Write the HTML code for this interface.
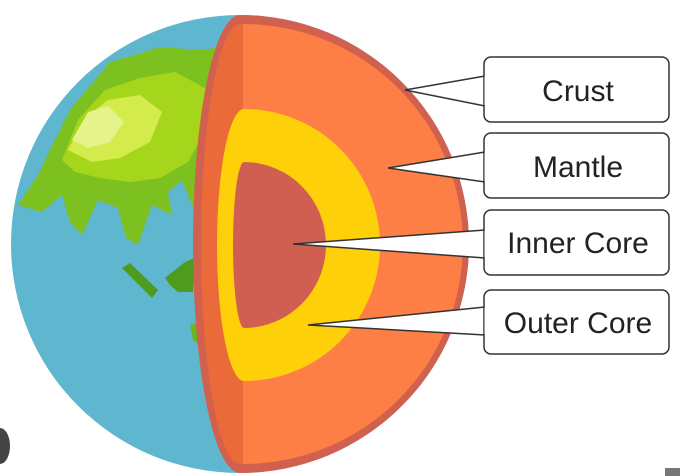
<!DOCTYPE html>
<html><head><meta charset="utf-8"><style>
html,body{margin:0;padding:0;background:#fff;width:680px;height:476px;overflow:hidden}
svg{display:block}
text{font-family:"Liberation Sans",sans-serif;font-size:30px;fill:#222}
</style></head><body>
<svg width="680" height="476" viewBox="0 0 680 476">
<defs><clipPath id="globe"><circle cx="240" cy="244" r="229"/></clipPath></defs>
<g>
<circle cx="240" cy="244" r="229" fill="#5fb7cf"/>
<g clip-path="url(#globe)">
<path fill="#7cc11f" d="M18,205 L38,175 L50,150 L70,110 L95,80 L110,62 L135,55 L160,47 L200,50 L240,45 L240,245 L205,232 L192,205 L182,180 L168,192 L172,215 L152,205 L138,245 L126,238 L118,208 L98,200 L82,235 L70,222 L62,195 L42,212 Z"/>
<path fill="#a6d61c" d="M62,160 L78,120 L105,90 L140,78 L175,72 L205,88 L212,112 L200,140 L188,162 L160,178 L130,182 L100,178 L75,172 Z"/>
<path fill="#d3ec4c" d="M68,150 L85,118 L108,100 L140,95 L162,112 L150,142 L120,158 L92,162 Z"/>
<path fill="#e4f38a" d="M72,140 L88,112 L108,106 L124,122 L110,142 L88,148 Z"/>
<path fill="#4e9b1e" d="M122,268 L130,263 L158,290 L152,298 Z"/>
<path fill="#4e9b1e" d="M165,278 L185,262 L195,258 L193,292 L178,292 L170,285 Z"/>
<path fill="#6fb222" d="M190,325 L198,322 L200,345 L193,340 Z"/>
</g>
</g>
<g>
<path d="M240,15 A47,229 0 0 0 240,473 A229,229 0 0 0 240,15 Z" fill="#d1604f"/>
<path d="M240,24 A39,220 0 0 0 240,464 L244,464 L244,24 Z" fill="#ea6a3a"/>
<path d="M243,24 A220,220 0 0 1 243,464 Z" fill="#fe7f46"/>
<path d="M244,109 A27,136 0 0 0 244,381 A136,136 0 0 0 244,109 Z" fill="#fdd00a"/>
<path d="M244,162 A11,83 0 0 0 244,328 A82,83 0 0 0 244,162 Z" fill="#d05f51"/>
</g>
<g stroke="#333" stroke-width="1.5" fill="#fff">
<g>
<path d="M485,76 L405,90 L485,106"/>
<rect x="484" y="57" width="185" height="65" rx="7" fill="#fff"/>
<path d="M486,77 L486,105" stroke="#fff" stroke-width="3"/>
<text x="578" y="101" text-anchor="middle" stroke="none">Crust</text></g>
<g>
<path d="M485,152 L388,168 L485,182"/>
<rect x="484" y="133" width="185" height="65" rx="7" fill="#fff"/>
<path d="M486,153 L486,181" stroke="#fff" stroke-width="3"/>
<text x="578" y="177" text-anchor="middle" stroke="none">Mantle</text></g>
<g>
<path d="M485,230 L293,244 L485,258"/>
<rect x="484" y="210" width="185" height="65" rx="7" fill="#fff"/>
<path d="M486,231 L486,257" stroke="#fff" stroke-width="3"/>
<text x="578" y="253" text-anchor="middle" stroke="none">Inner Core</text></g>
<g>
<path d="M485,307 L308,325 L485,335"/>
<rect x="484" y="290" width="185" height="64" rx="7" fill="#fff"/>
<path d="M486,308 L486,334" stroke="#fff" stroke-width="3"/>
<text x="578" y="333" text-anchor="middle" stroke="none">Outer Core</text></g>
</g>
<path d="M0,428 A10,18 0 0 1 0,464 Z" fill="#444"/>
<rect x="665" y="468" width="15" height="8" fill="#777"/>
</svg>
</body></html>
